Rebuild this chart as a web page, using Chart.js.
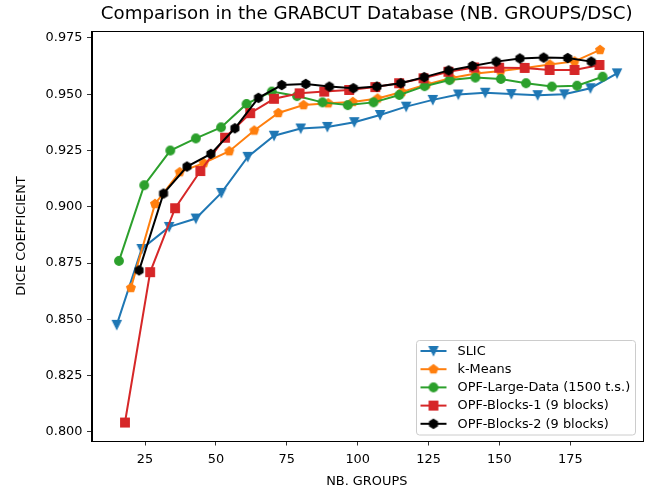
<!DOCTYPE html>
<html>
<head>
<meta charset="utf-8">
<script src="https://cdn.jsdelivr.net/npm/chart.js@4.4.0/dist/chart.umd.min.js"></script>
<style>
  html, body { margin: 0; padding: 0; background: #fff; }
  canvas { display: block; }
</style>
</head>
<body>
<canvas id="chart" width="649" height="489"></canvas>
<script>
const TITLE = 'Comparison in the GRABCUT Database (NB. GROUPS/DSC)';
const X_TITLE = 'NB. GROUPS';
const Y_TITLE = 'DICE COEFFICIENT';
const X_TICKS = [25, 50, 75, 100, 125, 150, 175];
const Y_TICKS = [0.800, 0.825, 0.850, 0.875, 0.900, 0.925, 0.950, 0.975];

// values
const slicX = [15.0,23.8,33.5,42.9,51.9,61.2,70.5,79.9,89.3,98.8,107.9,117.1,126.5,135.5,145.0,154.2,163.5,172.9,182.1,191.5];
const slicY = [0.8476,0.8813,0.8911,0.8948,0.9062,0.9222,0.9316,0.9348,0.9355,0.9376,0.9408,0.9445,0.9475,0.9499,0.9507,0.9501,0.9496,0.9500,0.9527,0.9593];

const kmeansX = [20.0,28.5,37.2,45.7,54.7,63.5,72.0,80.9,89.6,98.3,107.0,115.6,124.3,133.0,141.7,150.4,159.0,167.8,176.5,185.5];
const kmeansY = [0.8640,0.9013,0.9154,0.9194,0.9247,0.9339,0.9417,0.9452,0.9460,0.9466,0.9481,0.9510,0.9544,0.9572,0.9592,0.9603,0.9617,0.9632,0.9646,0.9697];

const opfLargeX = [15.8,24.7,33.9,42.9,51.8,60.8,69.7,78.6,87.6,96.5,105.6,114.7,123.6,132.4,141.5,150.5,159.4,168.5,177.4,186.4];
const opfLargeY = [0.8760,0.9096,0.9250,0.9304,0.9353,0.9457,0.9512,0.9492,0.9464,0.9452,0.9464,0.9497,0.9536,0.9563,0.9574,0.9568,0.9549,0.9534,0.9538,0.9578];

const blocks1X = [17.9,26.8,35.6,44.5,53.2,62.1,70.5,79.5,88.2,97.0,106.2,114.6,123.2,132.0,141.1,149.9,158.9,167.7,176.5,185.3];
const blocks1Y = [0.8042,0.8710,0.8994,0.9159,0.9307,0.9416,0.9480,0.9504,0.9512,0.9519,0.9532,0.9549,0.9571,0.9600,0.9619,0.9618,0.9617,0.9608,0.9608,0.9630];

const blocks2X = [22.9,31.5,39.8,48.2,56.7,65.0,73.2,81.7,90.0,98.5,106.8,115.2,123.5,132.1,140.5,148.9,157.2,165.6,174.1,182.4];
const blocks2Y = [0.8718,0.9059,0.9179,0.9235,0.9349,0.9484,0.9541,0.9546,0.9534,0.9527,0.9534,0.9549,0.9576,0.9606,0.9626,0.9645,0.9659,0.9663,0.9661,0.9645];

const SERIES = [
  {label:'SLIC',                       xs:slicX,     ys:slicY,     color:'#1f77b4', marker:'v'},
  {label:'k-Means',                    xs:kmeansX,   ys:kmeansY,   color:'#ff7f0e', marker:'p'},
  {label:'OPF-Large-Data (1500 t.s.)', xs:opfLargeX, ys:opfLargeY, color:'#2ca02c', marker:'o'},
  {label:'OPF-Blocks-1 (9 blocks)',    xs:blocks1X,  ys:blocks1Y,  color:'#d62728', marker:'s'},
  {label:'OPF-Blocks-2 (9 blocks)',    xs:blocks2X,  ys:blocks2Y,  color:'#000000', marker:'h'},
];

const FONT = "'DejaVu Sans', sans-serif";
const FS = 12.9;
const MS = 8.6;    // marker size
const EDGE = 1.2;

// matplotlib-like marker glyphs as small canvases
function makeMarker(kind, color){
  const c = document.createElement('canvas');
  c.width = c.height = 16;
  const g = c.getContext('2d');
  const r = MS/2;
  g.translate(8,8);
  g.beginPath();
  if (kind==='o') g.arc(0,0,r,0,Math.PI*2);
  else if (kind==='s') g.rect(-r,-r,2*r,2*r);
  else if (kind==='v') { g.moveTo(0,r); g.lineTo(-r,-r); g.lineTo(r,-r); g.closePath(); }
  else {
    const n = kind==='p' ? 5 : 6;
    for (let i=0;i<n;i++){ const a=-Math.PI/2+i*2*Math.PI/n; g.lineTo(r*1.05*Math.cos(a), r*1.05*Math.sin(a)); }
    g.closePath();
  }
  g.fillStyle = color; g.fill();
  g.lineWidth = EDGE; g.strokeStyle = color; g.stroke();
  return c;
}
SERIES.forEach(s => s.glyph = makeMarker(s.marker, s.color));

const decor = {
  id:'decor',
  afterDraw(chart){
    const {ctx, chartArea:a} = chart;
    ctx.save();
    // full axes box
    ctx.strokeStyle = '#000'; ctx.lineWidth = 1;
    ctx.strokeRect(Math.round(a.left)+0.5, Math.round(a.top)+0.5, Math.round(a.right-a.left), Math.round(a.bottom-a.top));
    // title
    ctx.fillStyle = '#000';
    ctx.font = `18.2px ${FONT}`;
    ctx.textAlign = 'center'; ctx.textBaseline = 'middle';
    ctx.fillText(TITLE, (a.left+a.right)/2, 14.5);
    // legend, lower right
    const bx = 416.5, by = 340.5, bw = 219, bh = 94.5, rad = 3;
    ctx.beginPath();
    ctx.roundRect(bx, by, bw, bh, rad);
    ctx.fillStyle = 'rgba(255,255,255,0.8)'; ctx.fill();
    ctx.strokeStyle = '#cccccc'; ctx.lineWidth = 1; ctx.stroke();
    ctx.font = `${FS}px ${FONT}`;
    ctx.textAlign = 'left';
    SERIES.forEach((s,i)=>{
      const y = 351 + i*18.2;
      ctx.strokeStyle = s.color; ctx.lineWidth = 2;
      ctx.beginPath(); ctx.moveTo(420.5,y); ctx.lineTo(446.5,y); ctx.stroke();
      ctx.drawImage(s.glyph, 433.5-8, y-8);
      ctx.fillStyle = '#000';
      ctx.fillText(s.label, 457.5, y+0.5);
    });
    ctx.restore();
  }
};

new Chart(document.getElementById('chart'), {
  type:'scatter',
  data:{
    datasets: SERIES.map((s,i)=>({
      label:s.label,
      data:s.xs.map((x,j)=>({x, y:s.ys[j]})),
      showLine:true,
      borderColor:s.color,
      backgroundColor:s.color,
      borderWidth:2,
      pointStyle:s.glyph,
      pointRadius:4,
      pointHoverRadius:4,
      order:SERIES.length-i,
      clip:false
    }))
  },
  options:{
    responsive:false,
    animation:false,
    layout:{padding:{top:31, right:7, left:0, bottom:0}},
    plugins:{legend:{display:false}, title:{display:false}, tooltip:{enabled:false}},
    scales:{
      x:{
        type:'linear', min:6.1, max:200.3,
        afterBuildTicks:s=>{ s.ticks = X_TICKS.map(v=>({value:v})); },
        afterFit:s=>{ s.height = 48; },
        ticks:{autoSkip:false, maxRotation:0, padding:6.5, color:'#000', font:{family:FONT, size:FS}, callback:v=>String(v)},
        grid:{display:true, drawOnChartArea:false, drawTicks:true, tickLength:4.5, color:'#000', lineWidth:0.8},
        border:{display:true, color:'#000', width:1},
        title:{display:true, text:X_TITLE, color:'#000', font:{family:FONT, size:FS}, padding:{top:0, bottom:0}}
      },
      y:{
        type:'linear', min:0.7960, max:0.9781,
        afterBuildTicks:s=>{ s.ticks = Y_TICKS.map(v=>({value:v})); },
        afterFit:s=>{ s.width = 91.5; },
        ticks:{autoSkip:false, padding:4.5, color:'#000', font:{family:FONT, size:FS}, callback:v=>v.toFixed(3)},
        grid:{display:true, drawOnChartArea:false, drawTicks:true, tickLength:4.5, color:'#000', lineWidth:0.8},
        border:{display:true, color:'#000', width:1},
        title:{display:true, text:Y_TITLE, color:'#000', font:{family:FONT, size:FS}, padding:{top:14.3, bottom:0}}
      }
    }
  },
  plugins:[decor]
});
</script>
</body>
</html>
